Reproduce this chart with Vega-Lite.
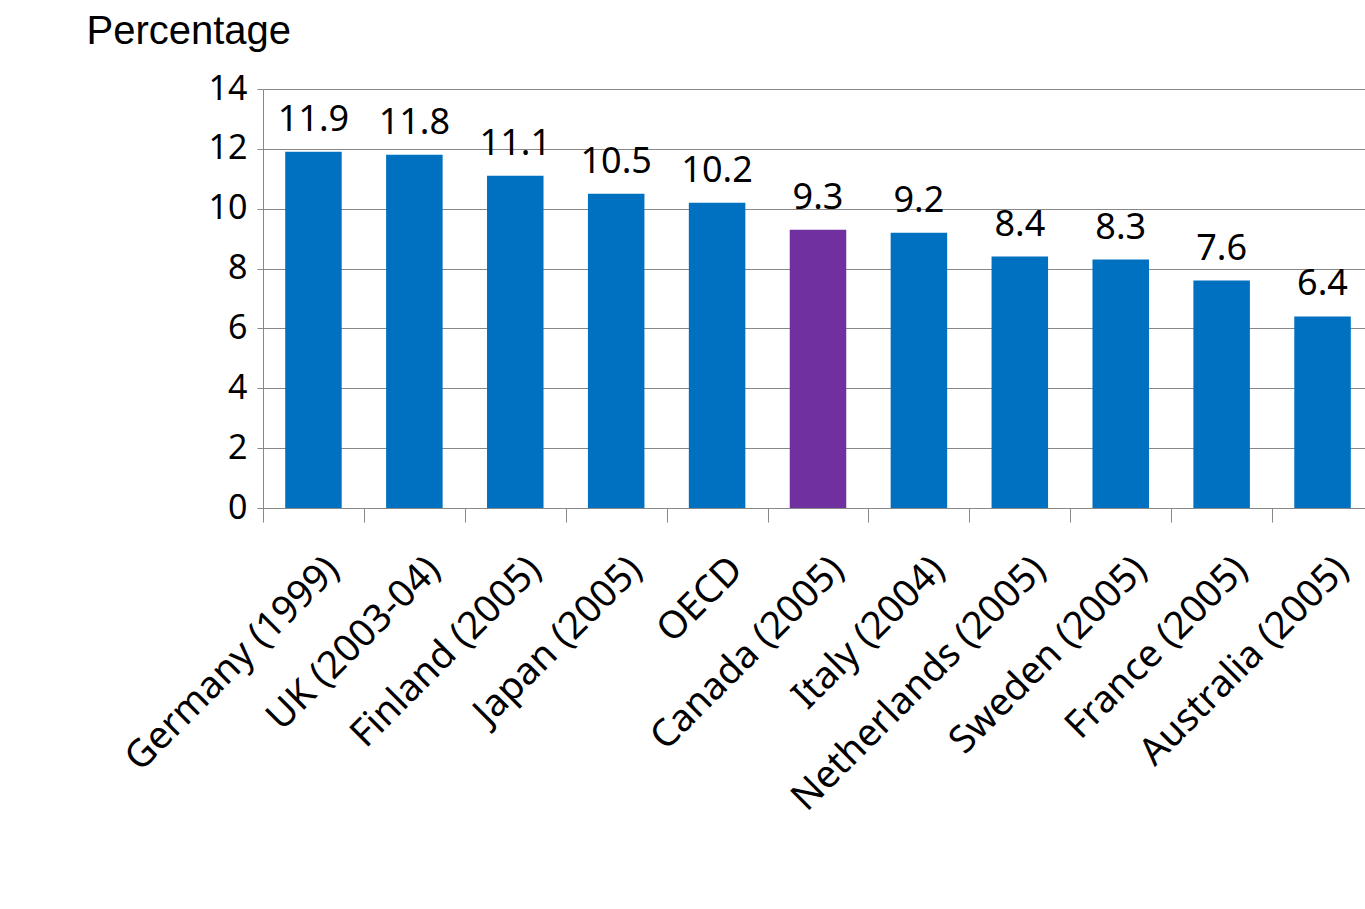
{
  "$schema": "https://vega.github.io/schema/vega-lite/v6.json",
  "autosize": "none",
  "padding": {"left": 263, "top": 89, "right": 0, "bottom": 401},
  "width": 1110,
  "height": 419,
  "background": "white",
  "config": {"view": {"stroke": null}, "font": "Noto Sans"},
  "data": {"values": [
    {"country": "Germany (1999)", "pct": 11.9, "hl": "n"},
    {"country": "UK (2003-04)", "pct": 11.8, "hl": "n"},
    {"country": "Finland (2005)", "pct": 11.1, "hl": "n"},
    {"country": "Japan (2005)", "pct": 10.5, "hl": "n"},
    {"country": "OECD", "pct": 10.2, "hl": "n"},
    {"country": "Canada (2005)", "pct": 9.3, "hl": "y"},
    {"country": "Italy (2004)", "pct": 9.2, "hl": "n"},
    {"country": "Netherlands (2005)", "pct": 8.4, "hl": "n"},
    {"country": "Sweden (2005)", "pct": 8.3, "hl": "n"},
    {"country": "France (2005)", "pct": 7.6, "hl": "n"},
    {"country": "Australia (2005)", "pct": 6.4, "hl": "n"}
  ]},
  "encoding": {
    "x": {"field": "country", "type": "nominal", "sort": null,
      "scale": {"paddingInner": 0, "paddingOuter": 0},
      "axis": {"title": null, "labelAngle": -45, "labelFontSize": 38, "labelColor": "#000",
        "labelAlign": "right", "labelBaseline": "top", "labelPadding": 28, "labelOffset": 6, "labelLimit": 600,
        "domainColor": "#888", "tickColor": "#888", "tickBand": "extent", "tickSize": 14}},
    "y": {"field": "pct", "type": "quantitative",
      "scale": {"domain": [0, 14]},
      "axis": {"values": [0, 2, 4, 6, 8, 10, 12, 14], "labelFontSize": 34, "labelColor": "#000",
        "gridColor": "#888", "domainColor": "#888", "tickColor": "#888", "tickSize": 6, "labelPadding": 10,
        "title": "Percentage", "titleAngle": 0, "titleFont": "Liberation Sans", "titleFontWeight": "normal",
        "titleFontSize": 40, "titleAlign": "left", "titleBaseline": "alphabetic",
        "titleX": -177, "titleY": -46, "titleColor": "#000"}}
  },
  "layer": [
    {"mark": {"type": "bar", "width": {"band": 0.56}},
     "encoding": {"color": {"field": "hl", "type": "nominal",
       "scale": {"domain": ["n", "y"], "range": ["#0070C0", "#7030A0"]}, "legend": null}}},
    {"mark": {"type": "text", "fontSize": 36, "dy": -32, "color": "#000"},
     "encoding": {"text": {"field": "pct", "type": "quantitative", "format": ".1f"}}}
  ]
}
